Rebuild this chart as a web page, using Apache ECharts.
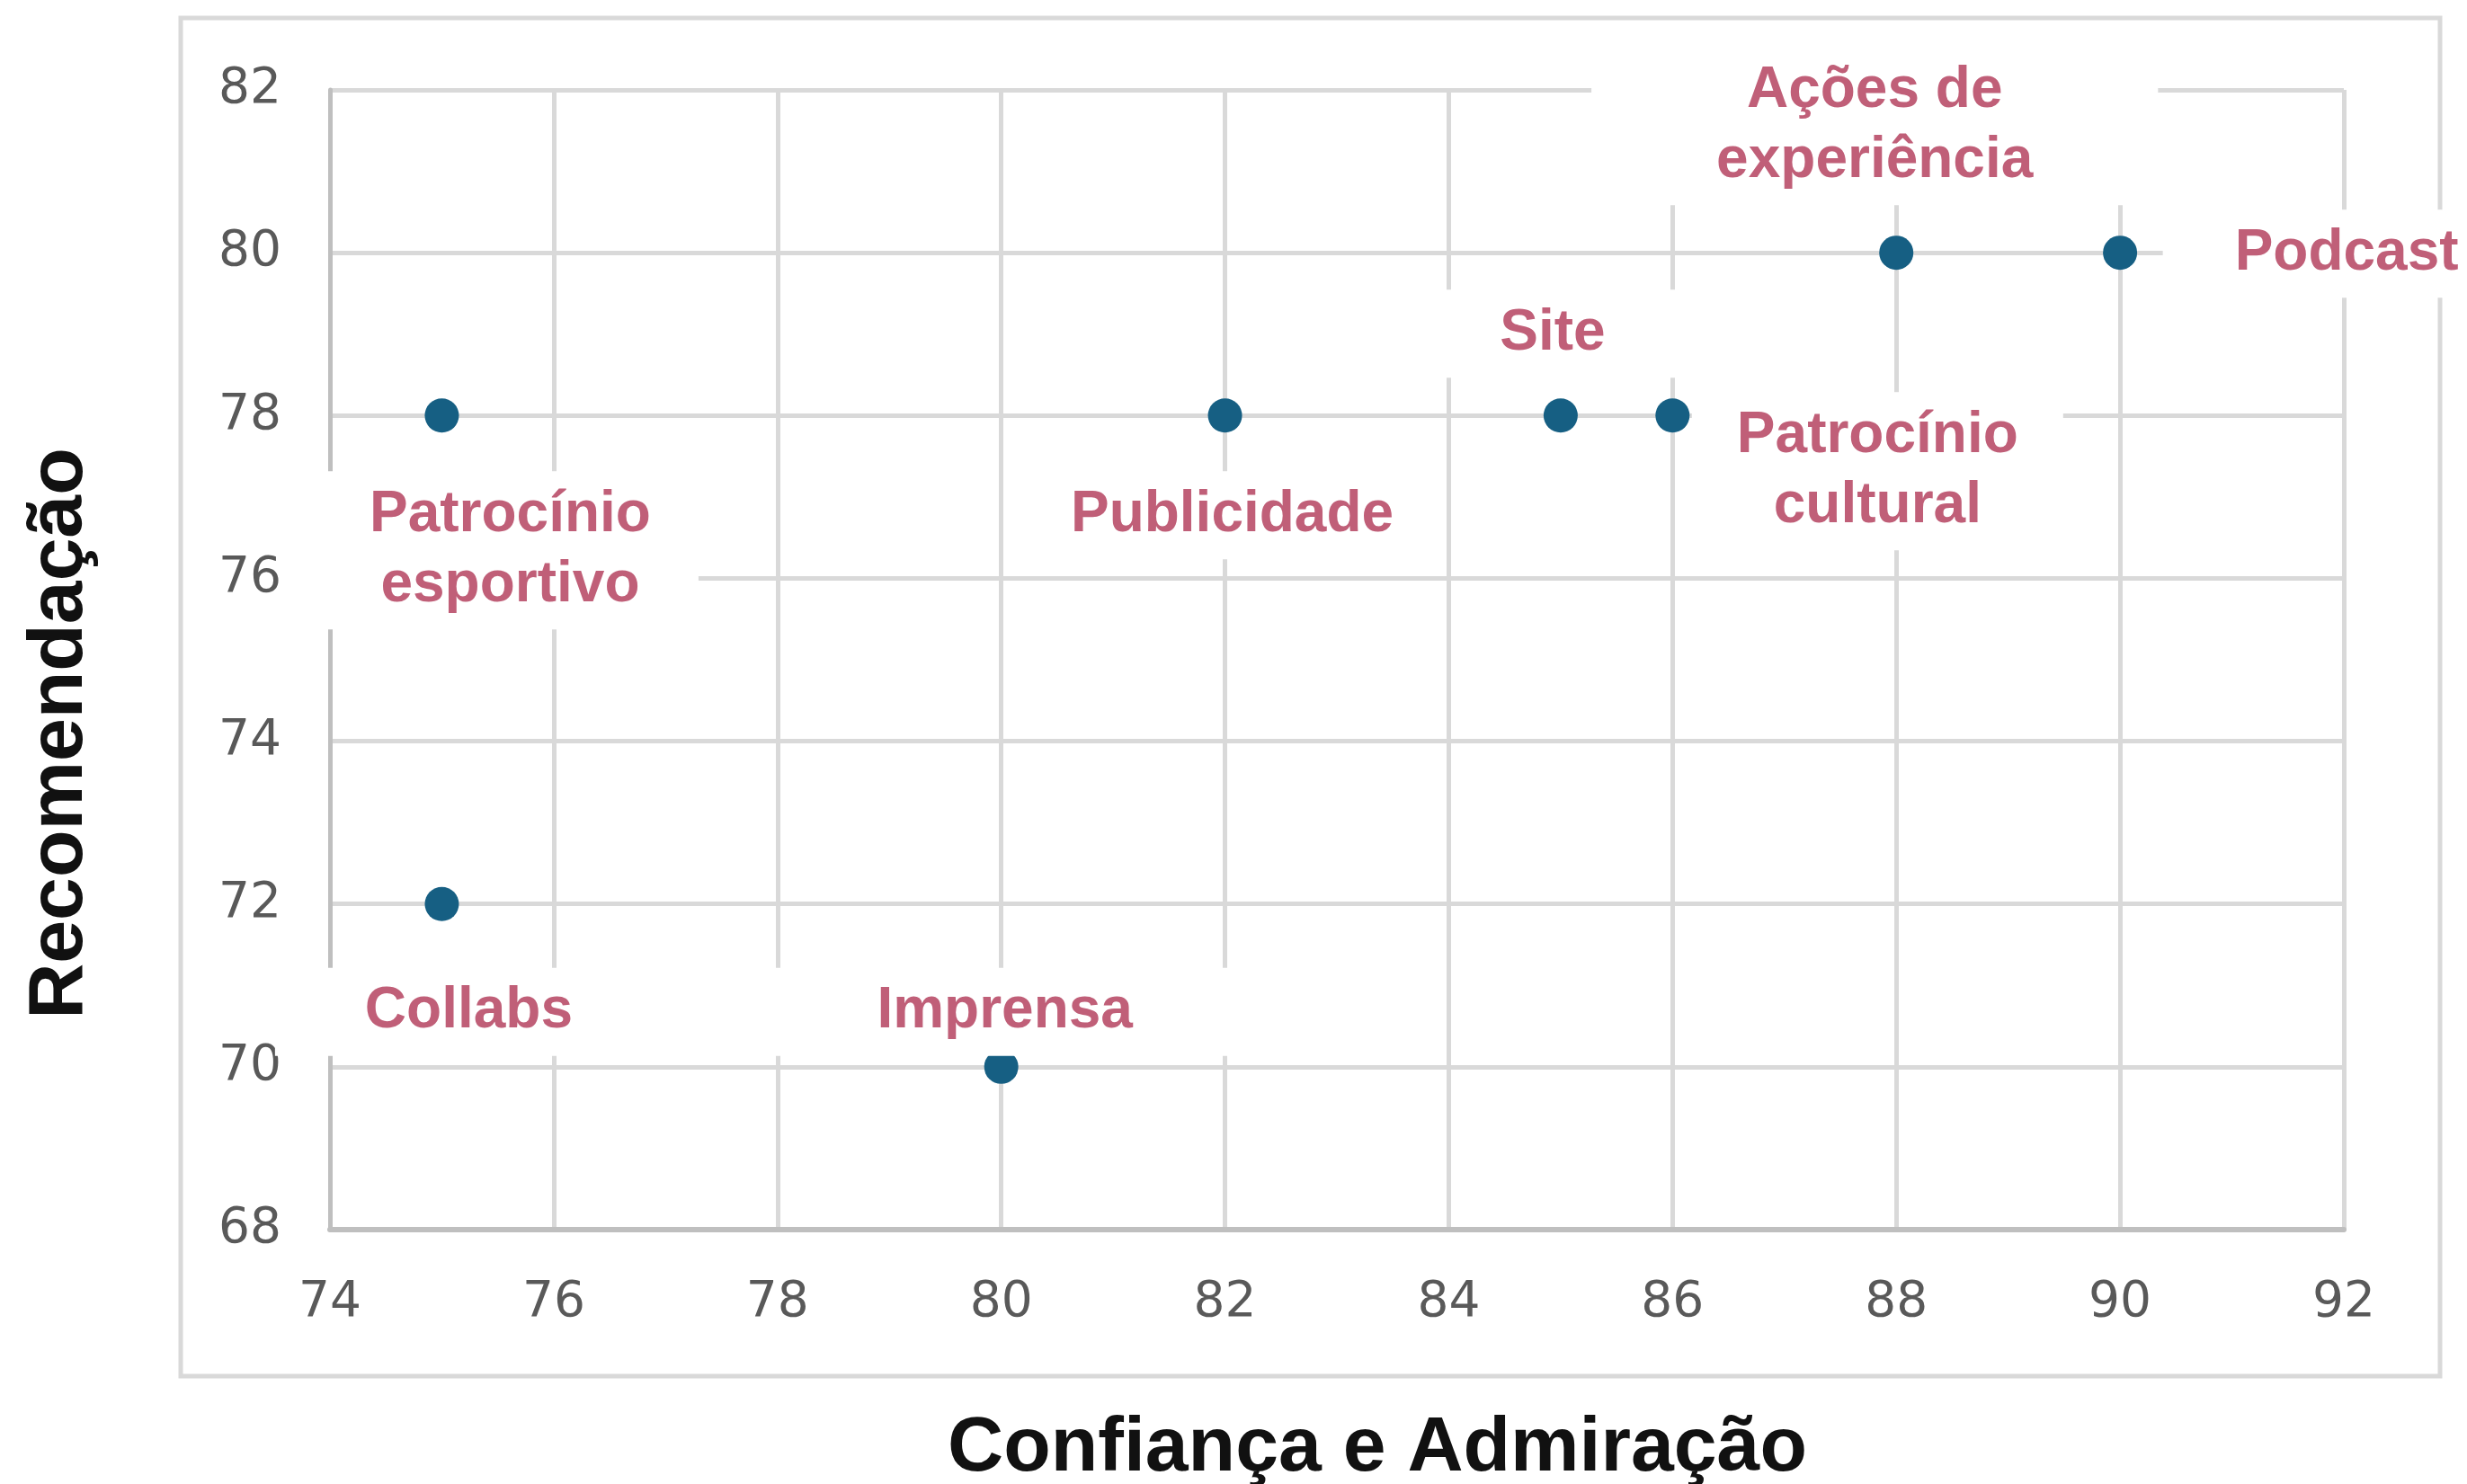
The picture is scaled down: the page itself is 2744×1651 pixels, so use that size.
<!DOCTYPE html>
<html>
<head>
<meta charset="utf-8">
<script src="https://cdn.jsdelivr.net/npm/echarts@6/dist/echarts.min.js"></script>
<style>
  html, body { margin: 0; padding: 0; background: #fff; }
  #chart { width: 2744px; height: 1651px; }
</style>
</head>
<body>
<div id="chart"></div>
<script>
// dados
var nomes = ['Patrocínio esportivo', 'Collabs', 'Imprensa', 'Publicidade', 'Site', 'Patrocínio cultural', 'Ações de experiência', 'Podcast']
var confianca = [75, 75, 80, 82, 85, 86, 88, 90]
var recomendacao = [78, 72, 70, 78, 78, 78, 80, 80]
var ticksX = [74, 76, 78, 80, 82, 84, 86, 88, 90, 92]
var ticksY = [68, 70, 72, 74, 76, 78, 80, 82]

// quebra de linha dos rótulos
var quebra = {
  'Patrocínio esportivo': 'Patrocínio\nesportivo',
  'Patrocínio cultural': 'Patrocínio\ncultural',
  'Ações de experiência': 'Ações de\nexperiência'
}
// posição de cada rótulo em relação ao ponto (px) e folga lateral da caixa branca
var posRotulo = {
  'Patrocínio esportivo': { off: [76, 150], ph: 53 },
  'Collabs': { off: [30, 120], ph: 100 },
  'Imprensa': { off: [4, -61], ph: 120 },
  'Publicidade': { off: [8, 111], ph: 50 },
  'Site': { off: [-9, -91], ph: 90 },
  'Patrocínio cultural': { off: [228, 62], ph: 50 },
  'Ações de experiência': { off: [-24, -141], ph: 139 },
  'Podcast': { off: [252, 1], ph: 80 }
}

var pontos = []
for (var i = 0; i < nomes.length; i++) {
  var p = posRotulo[nomes[i]]
  pontos.push({
    name: nomes[i],
    value: [confianca[i], recomendacao[i]],
    label: {
      offset: p.off,
      padding: [10, p.ph]
    }
  })
}

var myChart = echarts.init(document.getElementById('chart'))
var option = {
  backgroundColor: '#fff',
  animation: false,
  grid: {
    left: 367,
    right: 137,
    top: 100,
    bottom: 283,
    containLabel: false,
    outerBoundsMode: 'none'
  },
  xAxis: {
    type: 'value',
    min: ticksX[0],
    max: ticksX[ticksX.length - 1],
    interval: 2,
    axisLine: { show: true, lineStyle: { color: '#bfbfbf', width: 6 } },
    axisTick: { show: false },
    axisLabel: {
      fontSize: 55, color: '#595959', fontFamily: 'DejaVu Sans', margin: 54,
      formatter: function (v) { return ticksX.indexOf(v) >= 0 ? String(v) : '' }
    },
    splitLine: { show: true, lineStyle: { color: '#d9d9d9', width: 5 } }
  },
  yAxis: {
    type: 'value',
    min: ticksY[0],
    max: ticksY[ticksY.length - 1],
    interval: 2,
    axisLine: { show: true, lineStyle: { color: '#bfbfbf', width: 5 } },
    axisTick: { show: false },
    axisLabel: {
      fontSize: 55, color: '#595959', fontFamily: 'DejaVu Sans', margin: 54,
      formatter: function (v) { return ticksY.indexOf(v) >= 0 ? String(v) : '' }
    },
    splitLine: { show: true, lineStyle: { color: '#d9d9d9', width: 5 } }
  },
  graphic: [
    {
      type: 'rect', z: -10, silent: true,
      shape: { x: 201, y: 20, width: 2513, height: 1511 },
      style: { fill: 'none', stroke: '#d9d9d9', lineWidth: 5 }
    },
    {
      type: 'text', x: 1532, y: 1612, silent: true,
      style: {
        text: 'Confiança e Admiração', fill: '#111',
        fontSize: 86, fontWeight: 'bold', fontFamily: 'Liberation Sans',
        align: 'center', verticalAlign: 'middle', textAlign: 'center', textVerticalAlign: 'middle'
      }
    },
    {
      type: 'text', x: 67, y: 816, rotation: Math.PI / 2, silent: true,
      style: {
        text: 'Recomendação', fill: '#111',
        fontSize: 86, fontWeight: 'bold', fontFamily: 'Liberation Sans',
        align: 'center', verticalAlign: 'middle', textAlign: 'center', textVerticalAlign: 'middle'
      }
    }
  ],
  series: [{
    type: 'scatter',
    symbol: 'circle',
    symbolSize: 38,
    itemStyle: { color: '#165f83', opacity: 1 },
    label: {
      show: true,
      position: 'inside',
      formatter: function (p) { return quebra[p.name] || p.name },
      color: '#c05f78',
      opacity: 1,
      fontSize: 64,
      fontWeight: 'bold',
      fontFamily: 'Liberation Sans',
      lineHeight: 78,
      align: 'center',
      backgroundColor: '#fff'
    },
    data: pontos
  }]
}
myChart.setOption(option)
</script>
</body>
</html>
